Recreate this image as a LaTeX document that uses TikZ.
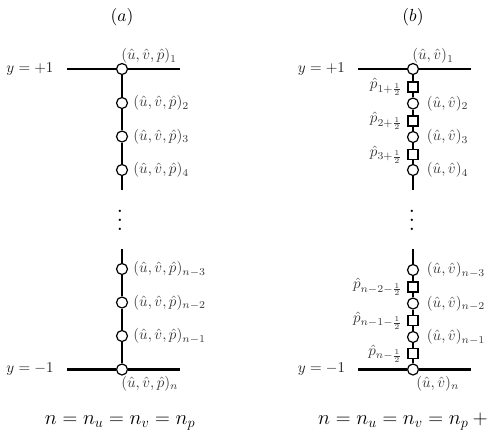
\documentclass[tikz,border=0pt]{standalone}
\usepackage{fix-cm}
\usepackage{amsmath}
\usetikzlibrary{calc}
\begin{document}
\begin{tikzpicture}[x=1pt,y=-1pt,
  dotnode/.style={circle,draw,fill=white,minimum size=11pt,inner sep=0pt,line width=1.2pt},
  sqnode/.style={rectangle,draw,fill=white,minimum size=10pt,inner sep=0pt,line width=1.1pt},
  wall/.style={line width=2.8pt},
  stem/.style={line width=1.2pt},
  lbl/.style={text=black!78,inner sep=0pt,scale=1.5},
  side/.style={text=black!88,inner sep=0pt,scale=1.5},
  ttl/.style={inner sep=0pt,scale=1.75},
  eqn/.style={font=\fontsize{20.5}{24}\selectfont,inner sep=0pt},
  dotsnode/.style={inner sep=0pt,scale=2.2}]
\useasboundingbox (0,0) rectangle (493,440);

% ---------------- panel (a)
\node[ttl] (ta) at (122,17) {$(a)$};
\node[side] (ya1) at (30,69) {$y=+1$};
\node[side] (ya2) at (30,369.5) {$y=-1$};
\coordinate (awl1) at (67,69);
\coordinate (awr1) at (180,69);
\coordinate (awl2) at (67,369.5);
\coordinate (awr2) at (180,369.5);
\coordinate (aend1) at (122,190);
\coordinate (astart2) at (122,249);

\node[dotnode] (a1) at (122,69) {};
\node[dotnode] (a2) at (122,103) {};
\node[dotnode] (a3) at (122,136.5) {};
\node[dotnode] (a4) at (122,170) {};
\node[dotnode] (a5) at (122,269) {};
\node[dotnode] (a6) at (122,302.5) {};
\node[dotnode] (a7) at (122,336) {};
\node[dotnode] (a8) at (122,369.5) {};

\draw[wall] (awl1) -- (a1) -- (awr1);
\draw[wall] (awl2) -- (a8) -- (awr2);
\draw[stem] (a1) -- (a2) -- (a3) -- (a4) -- (aend1);
\draw[stem] (astart2) -- (a5) -- (a6) -- (a7) -- (a8);

\node[lbl,anchor=south west] (la1) at (121,64) {$(\hat u,\hat v,\hat p)_1$};
\node[lbl,anchor=west] (la2) at ($(a2.east)+(5,0)$) {$(\hat u,\hat v,\hat p)_2$};
\node[lbl,anchor=west] (la3) at ($(a3.east)+(5,0)$) {$(\hat u,\hat v,\hat p)_3$};
\node[lbl,anchor=west] (la4) at ($(a4.east)+(5,0)$) {$(\hat u,\hat v,\hat p)_4$};
\node[lbl,anchor=west] (la5) at ($(a5.east)+(5,0)$) {$(\hat u,\hat v,\hat p)_{n-3}$};
\node[lbl,anchor=west] (la6) at ($(a6.east)+(5,0)$) {$(\hat u,\hat v,\hat p)_{n-2}$};
\node[lbl,anchor=west] (la7) at ($(a7.east)+(5,0)$) {$(\hat u,\hat v,\hat p)_{n-1}$};
\node[lbl,anchor=north west] (la8) at (121,376) {$(\hat u,\hat v,\hat p)_n$};

\node[dotsnode] (adots) at (120,214) {$\vdots$};
\node[eqn,anchor=base] (aeq) at (120,424) {$n=n_u=n_v=n_p$};

% ---------------- panel (b)
\node[ttl] (tb) at (413,17) {$(b)$};
\node[side] (yb1) at (321.5,69) {$y=+1$};
\node[side] (yb2) at (321.5,369.5) {$y=-1$};
\coordinate (bwl1) at (358,69);
\coordinate (bwr1) at (471,69);
\coordinate (bwl2) at (358,369.5);
\coordinate (bwr2) at (471,369.5);
\coordinate (bend1) at (413,190);
\coordinate (bstart2) at (413,249);

\node[dotnode] (b1) at (413,69) {};
\node[sqnode]  (q1) at (413,87) {};
\node[dotnode] (b2) at (413,103.5) {};
\node[sqnode]  (q2) at (413,121) {};
\node[dotnode] (b3) at (413,137) {};
\node[sqnode]  (q3) at (413,154.5) {};
\node[dotnode] (b4) at (413,170) {};
\node[dotnode] (b5) at (413,270) {};
\node[sqnode]  (q5) at (413,287) {};
\node[dotnode] (b6) at (413,303.5) {};
\node[sqnode]  (q6) at (413,320.5) {};
\node[dotnode] (b7) at (413,337) {};
\node[sqnode]  (q7) at (413,353.5) {};
\node[dotnode] (b8) at (413,369.5) {};

\draw[wall] (bwl1) -- (b1) -- (bwr1);
\draw[wall] (bwl2) -- (b8) -- (bwr2);
\draw[stem] (b1) -- (q1) -- (b2) -- (q2) -- (b3) -- (q3) -- (b4) -- (bend1);
\draw[stem] (bstart2) -- (b5) -- (q5) -- (b6) -- (q6) -- (b7) -- (q7) -- (b8);

\node[lbl,anchor=south west] (lb1) at (412,64) {$(\hat u,\hat v)_1$};
\node[lbl,anchor=west] (lb2) at ($(b2.east)+(7.5,0)$) {$(\hat u,\hat v)_2$};
\node[lbl,anchor=west] (lb3) at ($(b3.east)+(7.5,0)$) {$(\hat u,\hat v)_3$};
\node[lbl,anchor=west] (lb4) at ($(b4.east)+(7.5,0)$) {$(\hat u,\hat v)_4$};
\node[lbl,anchor=west] (lb5) at ($(b5.east)+(7.5,0)$) {$(\hat u,\hat v)_{n-3}$};
\node[lbl,anchor=west] (lb6) at ($(b6.east)+(7.5,0)$) {$(\hat u,\hat v)_{n-2}$};
\node[lbl,anchor=west] (lb7) at ($(b7.east)+(7.5,0)$) {$(\hat u,\hat v)_{n-1}$};
\node[lbl,anchor=north west] (lb8) at (416,376) {$(\hat u,\hat v)_n$};

\node[lbl,anchor=east] (lq1) at ($(q1.west)+(-5,0)$) {$\hat p_{1+\frac12}$};
\node[lbl,anchor=east] (lq2) at ($(q2.west)+(-5,0)$) {$\hat p_{2+\frac12}$};
\node[lbl,anchor=east] (lq3) at ($(q3.west)+(-5,0)$) {$\hat p_{3+\frac12}$};
\node[lbl,anchor=east] (lq5) at ($(q5.west)+(-5,0)$) {$\hat p_{n-2-\frac12}$};
\node[lbl,anchor=east] (lq6) at ($(q6.west)+(-5,0)$) {$\hat p_{n-1-\frac12}$};
\node[lbl,anchor=east] (lq7) at ($(q7.west)+(-5,0)$) {$\hat p_{n-\frac12}$};

\node[dotsnode] (bdots) at (412,214) {$\vdots$};
\node[eqn,anchor=base west] (beq) at (318,424) {$n=n_u=n_v=n_p+{}$};
\end{tikzpicture}
\end{document}
